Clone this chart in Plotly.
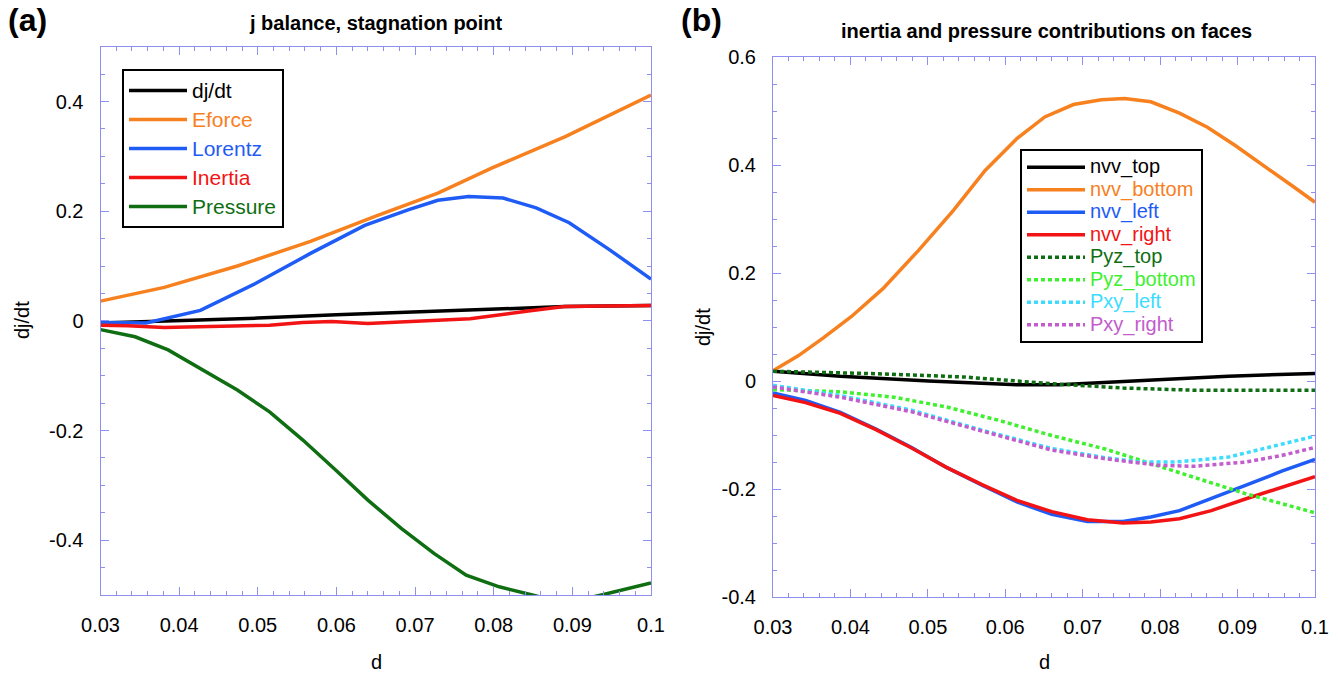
import plotly.graph_objects as go

# ---------------- panel (a): j balance at the stagnation point ----------------
d_djdt = [0.03, 0.04, 0.05, 0.06, 0.07, 0.08, 0.089, 0.1]
djdt = [-0.004, 0.0, 0.005, 0.011, 0.016, 0.021, 0.026, 0.028]

d_eforce = [0.03, 0.0381, 0.0474, 0.0567, 0.065, 0.0729, 0.0798, 0.0891, 0.1]
eforce = [0.036, 0.061, 0.1, 0.145, 0.191, 0.233, 0.279, 0.336, 0.412]

d_lorentz = [0.03, 0.0358, 0.0427, 0.0497, 0.0567, 0.0636, 0.0692, 0.0729,
             0.0768, 0.0812, 0.0854, 0.0896, 0.0947, 0.1]
lorentz = [-0.003, -0.004, 0.019, 0.068, 0.123, 0.174, 0.203, 0.22,
           0.227, 0.224, 0.206, 0.179, 0.13, 0.076]

d_inertia = [0.03, 0.0335, 0.0381, 0.0427, 0.0515, 0.0557, 0.0594, 0.064,
             0.0705, 0.077, 0.0844, 0.089, 0.1]
inertia = [-0.008, -0.009, -0.012, -0.011, -0.008, -0.003, -0.001, -0.005,
           -0.001, 0.004, 0.018, 0.026, 0.028]

d_pressure = [0.03, 0.0344, 0.0386, 0.0427, 0.0474, 0.0515, 0.0557, 0.0599,
              0.064, 0.0682, 0.0724, 0.0765, 0.0807, 0.0849, 0.089, 0.0937, 0.1]
pressure = [-0.016, -0.029, -0.053, -0.087, -0.126, -0.166, -0.217, -0.272,
            -0.327, -0.378, -0.424, -0.464, -0.485, -0.5, -0.515, -0.5, -0.478]

# ---------------- panel (b): inertia and pressure contributions on faces ----------------
d_nvv_top = [0.03, 0.0387, 0.0501, 0.0615, 0.067, 0.0729, 0.0797, 0.0888, 0.1]
nvv_top = [0.018, 0.0086, 0.0, -0.007, -0.007, -0.002, 0.0025, 0.009, 0.014]

d_nvv_bottom = [0.03, 0.0333, 0.0365, 0.0401, 0.0442, 0.0488, 0.0533, 0.0574, 0.0615,
                0.0651, 0.0688, 0.0724, 0.0754, 0.0788, 0.0825, 0.0861, 0.0897,
                0.0934, 0.097, 0.1]
nvv_bottom = [0.019, 0.047, 0.08, 0.119, 0.171, 0.242, 0.316, 0.39, 0.449,
              0.489, 0.512, 0.521, 0.523, 0.517, 0.496, 0.47, 0.436,
              0.399, 0.362, 0.331]

d_faces = [0.03, 0.0342, 0.0387, 0.0433, 0.0479, 0.0524, 0.057, 0.0615, 0.066,
           0.0706, 0.0752, 0.0788, 0.0825, 0.0866, 0.0911, 0.0957, 0.1]
nvv_left = [-0.022, -0.036, -0.058, -0.089, -0.123, -0.16, -0.193, -0.224, -0.247,
            -0.26, -0.26, -0.252, -0.24, -0.218, -0.193, -0.167, -0.145]
nvv_right = [-0.027, -0.04, -0.06, -0.09, -0.124, -0.16, -0.192, -0.221, -0.242,
             -0.257, -0.263, -0.261, -0.255, -0.24, -0.218, -0.196, -0.177]

d_pyz_top = [0.03, 0.0433, 0.0547, 0.066, 0.0752, 0.0843, 0.1]
pyz_top = [0.018, 0.0136, 0.0074, -0.005, -0.013, -0.017, -0.017]

d_pyz_bottom = [0.03, 0.0387, 0.0456, 0.0524, 0.0592, 0.066, 0.0729, 0.0774,
                0.0843, 0.0911, 0.1]
pyz_bottom = [-0.016, -0.02, -0.03, -0.048, -0.073, -0.101, -0.126, -0.147,
              -0.178, -0.209, -0.244]

d_pxy = [0.03, 0.0387, 0.0479, 0.057, 0.066, 0.0729, 0.0774, 0.082, 0.0888,
         0.0943, 0.1]
pxy_left = [-0.008, -0.027, -0.054, -0.091, -0.125, -0.142, -0.15, -0.15,
            -0.141, -0.122, -0.102]
d_pxy_right = [0.03, 0.0387, 0.0479, 0.057, 0.066, 0.0729, 0.0797, 0.0843,
               0.0911, 0.0957, 0.1]
pxy_right = [-0.011, -0.03, -0.057, -0.092, -0.128, -0.144, -0.156, -0.158,
             -0.15, -0.138, -0.123]

# ---------------- tick labels ----------------
x_ticks = [0.03, 0.04, 0.05, 0.06, 0.07, 0.08, 0.09, 0.1]
x_ticktext = ["0.03", "0.04", "0.05", "0.06", "0.07", "0.08", "0.09", "0.1"]
ya_ticks = [-0.4, -0.2, 0.0, 0.2, 0.4]
ya_ticktext = ["-0.4", "-0.2", "0", "0.2", "0.4"]
yb_ticks = [-0.4, -0.2, 0.0, 0.2, 0.4, 0.6]
yb_ticktext = ["-0.4", "-0.2", "0", "0.2", "0.4", "0.6"]

FONT = "Arial, 'Liberation Sans', Helvetica, sans-serif"
AXIS_BLUE = "#8f8ff0"
W, H = 1338, 677

C_BLACK = "#000000"
C_ORANGE = "#f7801f"
C_BLUE = "#1f5cf5"
C_RED = "#f21414"
C_DKGREEN = "#0f6e12"
C_GREEN = "#3ef02f"
C_CYAN = "#3ddcff"
C_PURPLE = "#c35ccc"


def label(text, color, size=None):
    style = f"color:{color}"
    if size:
        style += f";font-size:{size}px"
    return f"<span style='{style}'>{text}</span>"


fig = go.Figure()


def add(x, y, name, color, axes, legend, dash="solid", text_size=None):
    fig.add_trace(go.Scatter(
        x=x, y=y, mode="lines", name=label(name, color, text_size),
        line=dict(color=color, width=3.5, dash=dash),
        xaxis=axes[0], yaxis=axes[1], legend=legend,
    ))


A = ("x", "y")
B = ("x2", "y2")
DOT = "4px,3px"

LA = 21
add(d_djdt, djdt, "dj/dt", C_BLACK, A, "legend", text_size=LA)
add(d_eforce, eforce, "Eforce", C_ORANGE, A, "legend", text_size=LA)
add(d_lorentz, lorentz, "Lorentz", C_BLUE, A, "legend", text_size=LA)
add(d_inertia, inertia, "Inertia", C_RED, A, "legend", text_size=LA)
add(d_pressure, pressure, "Pressure", C_DKGREEN, A, "legend", text_size=LA)

# legend2 rows are packed tighter than their text size
LB = 20
add(d_nvv_top, nvv_top, "nvv_top", C_BLACK, B, "legend2", text_size=LB)
add(d_nvv_bottom, nvv_bottom, "nvv_bottom", C_ORANGE, B, "legend2", text_size=LB)
add(d_faces, nvv_left, "nvv_left", C_BLUE, B, "legend2", text_size=LB)
add(d_faces, nvv_right, "nvv_right", C_RED, B, "legend2", text_size=LB)
add(d_pyz_top, pyz_top, "Pyz_top", C_DKGREEN, B, "legend2", DOT, LB)
add(d_pyz_bottom, pyz_bottom, "Pyz_bottom", C_GREEN, B, "legend2", DOT, LB)
add(d_pxy, pxy_left, "Pxy_left", C_CYAN, B, "legend2", DOT, LB)
add(d_pxy_right, pxy_right, "Pxy_right", C_PURPLE, B, "legend2", DOT, LB)

# plot-area boxes in pixels (left, right, top, bottom)
box_a = (100.5, 651, 46.7, 595)
box_b = (773, 1315, 57, 597)


def xdom(b):
    return [b[0] / W, b[1] / W]


def ydom(b):
    return [1 - b[3] / H, 1 - b[2] / H]


def axis_common():
    return dict(
        showline=True, linecolor=AXIS_BLUE, linewidth=1, mirror="ticks",
        ticks="inside", ticklen=8, tickwidth=1, tickcolor=AXIS_BLUE,
        showgrid=False, zeroline=False, tickmode="array", automargin=False,
        tickfont=dict(family=FONT, size=20, color="#000000"),
        ticklabelstandoff=12,
    )


def minor(tick0, dtick):
    return dict(tickmode="linear", tick0=tick0, dtick=dtick, ticks="inside",
                ticklen=4, tickcolor=AXIS_BLUE, showgrid=False)


fig.update_layout(
    width=W, height=H, margin=dict(l=0, r=0, t=0, b=0, autoexpand=False),
    paper_bgcolor="white", plot_bgcolor="white",
    font=dict(family=FONT, color="#000000"),
    xaxis=dict(**axis_common(), domain=xdom(box_a), range=[0.03, 0.1],
               tickvals=x_ticks, ticktext=x_ticktext, anchor="y",
               minor=minor(0.03, 0.002)),
    yaxis=dict(**axis_common(), domain=ydom(box_a), range=[-0.5, 0.5],
               tickvals=ya_ticks, ticktext=ya_ticktext, anchor="x",
               minor=minor(0, 0.05)),
    xaxis2=dict(**axis_common(), domain=xdom(box_b), range=[0.03, 0.1],
                tickvals=x_ticks, ticktext=x_ticktext, anchor="y2",
                minor=minor(0.03, 0.002)),
    yaxis2=dict(**axis_common(), domain=ydom(box_b), range=[-0.4, 0.6],
                tickvals=yb_ticks, ticktext=yb_ticktext, anchor="x2",
                minor=minor(0, 0.05)),
    legend=dict(x=122 / W, y=1 - 69 / H, xanchor="left", yanchor="top",
                bgcolor="white", bordercolor="#000000", borderwidth=2,
                font=dict(family=FONT, size=20), itemwidth=58,
                tracegroupgap=0),
    legend2=dict(x=1020 / W, y=1 - 149 / H, xanchor="left", yanchor="top",
                 bgcolor="white", bordercolor="#000000", borderwidth=2,
                 font=dict(family=FONT, size=15), itemwidth=58,
                 tracegroupgap=0),
    showlegend=True,
)

ann = [
    dict(text="<b>(a)</b>", x=6 / W, y=1 - 20 / H, size=32, xanchor="left"),
    dict(text="<b>(b)</b>", x=679 / W, y=1 - 20 / H, size=32, xanchor="left"),
    dict(text="<b>j balance, stagnation point</b>", x=376 / W, y=1 - 23 / H, size=20,
         xanchor="center"),
    dict(text="<b>inertia and pressure contributions on faces</b>", x=1046 / W,
         y=1 - 31 / H, size=20, xanchor="center"),
    dict(text="d", x=376 / W, y=1 - 662 / H, size=20, xanchor="center"),
    dict(text="d", x=1044 / W, y=1 - 662 / H, size=20, xanchor="center"),
]
for a in ann:
    fig.add_annotation(text=a["text"], x=a["x"], y=a["y"], xref="paper", yref="paper",
                       xanchor=a["xanchor"], yanchor="middle", showarrow=False,
                       font=dict(family=FONT, size=a["size"], color="#000000"))

for xpos, ypos in [(22, 320), (703, 327)]:
    fig.add_annotation(text="dj/dt", x=xpos / W, y=1 - ypos / H, xref="paper", yref="paper",
                       xanchor="center", yanchor="middle", textangle=-90, showarrow=False,
                       font=dict(family=FONT, size=20, color="#000000"))

fig.write_html("out.html")
